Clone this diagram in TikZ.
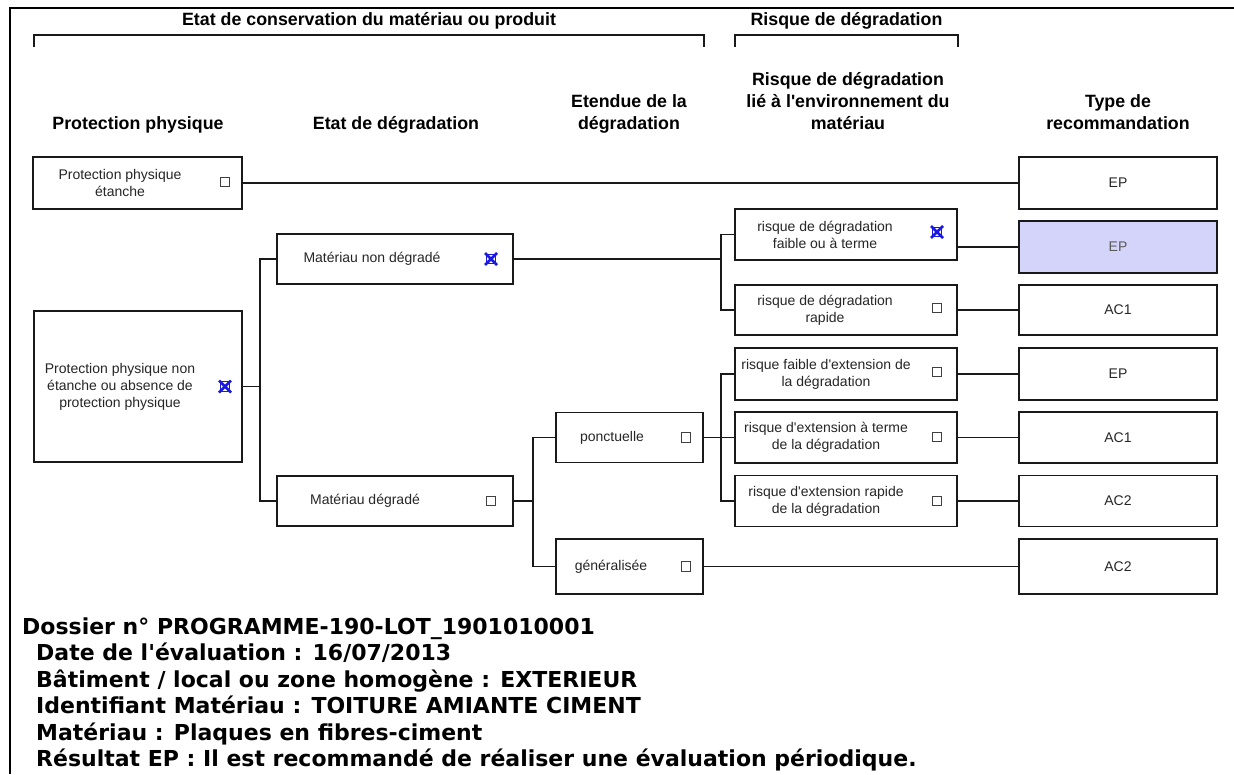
\documentclass[tikz,border=0pt]{standalone}
\usepackage{fontspec}
\setmainfont{Liberation Sans}[Ligatures=TeXOff]
\newfontfamily\verd{DejaVu Sans}
\definecolor{xblue}{RGB}{25,25,225}
\definecolor{lav}{RGB}{212,212,250}
\begin{document}
\begin{tikzpicture}[x=1pt,y=-1pt,
  box/.style={draw=black!90, line width=1.9pt, inner sep=0pt},
  btxt/.style={inner sep=0pt, align=center, font=\fontsize{14}{17}\selectfont, text=black!85},
  htxt/.style={inner sep=0pt, align=center, font=\fontsize{17.8}{22}\selectfont\bfseries},
  ftxt/.style={inner sep=0pt, anchor=base west, font=\fontsize{22}{26}\selectfont\verd\bfseries},
  cb/.style={draw=black!75, line width=0.9pt, minimum size=9.5pt, inner sep=0pt},
  cbx/.style={draw=xblue, line width=0.9pt, minimum size=9.5pt, inner sep=0pt},
  xm/.style={draw=xblue, line width=2.6pt},
  conn/.style={draw=black!90, line width=1.9pt},
  brk/.style={draw=black!90, line width=1.9pt}]
\useasboundingbox (0,0) rectangle (1234,774);
\fill[white] (0,0) rectangle (1234,774);
% frame
\draw[line width=2.6pt] (10,774) -- (10,8) -- (1234,8);
% top headers and brackets
\node[htxt] (h1) at (369,21) {Etat de conservation du matériau ou produit};
\node[htxt] (h2) at (846.5,21) {Risque de dégradation};
\draw[brk] (34,47) -- (34,35) -- (704,35) -- (704,47);
\draw[brk] (735,47) -- (735,35) -- (958,35) -- (958,47);
% column headers
\node[htxt, anchor=base] (c1) at (138,129) {Protection physique};
\node[htxt, anchor=base] (c2) at (396,129) {Etat de dégradation};
\node[htxt, anchor=base] (c3) at (629,129) {Etendue de la\\dégradation};
\node[htxt, anchor=base] (c4) at (848,129) {Risque de dégradation\\lié à l'environnement du\\matériau};
\node[htxt, anchor=base] (c5) at (1118,129) {Type de\\recommandation};
% protection physique
\node[box, minimum width=209pt, minimum height=52pt] (ppe) at (137.5,183) {};
\node[btxt] (tppe) at (120,183) {Protection physique\\étanche};
\node[cb] (kppe) at (225,182) {};
\node[box, minimum width=208pt, minimum height=151pt] (ppn) at (138,386.5) {};
\node[btxt] (tppn) at (120,386.5) {Protection physique non\\étanche ou absence de\\protection physique};
\node[cbx] (kppn) at (225,386.5) {};
\draw[xm] (kppn.center) +(-6,-6) -- +(6,6) +(6,-6) -- +(-6,6);
% etat de degradation
\node[box, minimum width=236pt, minimum height=50pt] (mnd) at (395,259) {};
\node[btxt] (tmnd) at (372,259) {Matériau non dégradé};
\node[cbx] (kmnd) at (491,259) {};
\draw[xm] (kmnd.center) +(-6,-6) -- +(6,6) +(6,-6) -- +(-6,6);
\node[box, minimum width=236pt, minimum height=50pt] (md) at (395,501) {};
\node[btxt] (tmd) at (365,501) {Matériau dégradé};
\node[cb] (kmd) at (491,501) {};
% etendue
\node[box, minimum width=147pt, minimum height=50pt] (pon) at (629.5,437.5) {};
\node[btxt] (tpon) at (612,437.5) {ponctuelle};
\node[cb] (kpon) at (686,437.5) {};
\node[box, minimum width=147pt, minimum height=55pt] (gen) at (629.5,566.5) {};
\node[btxt] (tgen) at (611,566.5) {généralisée};
\node[cb] (kgen) at (686,566.5) {};
% risque
\node[box, minimum width=222pt, minimum height=51pt] (rdf) at (846,234.5) {};
\node[btxt] (trdf) at (825,234.5) {risque de dégradation\\faible ou à terme};
\node[cbx] (krdf) at (937,232) {};
\draw[xm] (krdf.center) +(-6,-6) -- +(6,6) +(6,-6) -- +(-6,6);
\node[box, minimum width=222pt, minimum height=50pt] (rdr) at (846,310) {};
\node[btxt] (trdr) at (825,310) {risque de dégradation\\rapide};
\node[cb] (krdr) at (937,308) {};
\node[box, minimum width=222pt, minimum height=52pt] (ref1) at (846,374) {};
\node[btxt] (tref1) at (826,374) {risque faible d'extension de\\la dégradation};
\node[cb] (kref1) at (937,372) {};
\node[box, minimum width=222pt, minimum height=51pt] (ref2) at (846,437.5) {};
\node[btxt] (tref2) at (826,437.5) {risque d'extension à terme\\de la dégradation};
\node[cb] (kref2) at (937,437) {};
\node[box, minimum width=222pt, minimum height=51pt] (ref3) at (846,501) {};
\node[btxt] (tref3) at (826,501) {risque d'extension rapide\\de la dégradation};
\node[cb] (kref3) at (937,501) {};
% recommandations
\node[box, minimum width=198pt, minimum height=52pt] (ep1) at (1118,183) {};
\node[btxt] (tep1) at (1118,183) {EP};
\node[box, fill=lav, minimum width=198pt, minimum height=52pt] (ep2) at (1118,247) {};
\node[btxt, text=black!65] (tep2) at (1118,247) {EP};
\node[box, minimum width=198pt, minimum height=50pt] (ac1a) at (1118,310) {};
\node[btxt] (tac1a) at (1118,310) {AC1};
\node[box, minimum width=198pt, minimum height=52pt] (ep3) at (1118,374) {};
\node[btxt] (tep3) at (1118,374) {EP};
\node[box, minimum width=198pt, minimum height=51pt] (ac1b) at (1118,437.5) {};
\node[btxt] (tac1b) at (1118,437.5) {AC1};
\node[box, minimum width=198pt, minimum height=51pt] (ac2a) at (1118,501) {};
\node[btxt] (tac2a) at (1118,501) {AC2};
\node[box, minimum width=198pt, minimum height=55pt] (ac2b) at (1118,566.5) {};
\node[btxt] (tac2b) at (1118,566.5) {AC2};
% junctions
\coordinate (j1) at (260,386.5);
\coordinate (j2) at (721,259);
\coordinate (j3) at (721,437.5);
\coordinate (j4) at (533,501);
% connectors
\draw[conn] (ppe.east) -- (ep1.west);
\draw[conn] (ppn.east) -- (j1);
\draw[conn] (mnd.west) -| (j1) |- (md.west);
\draw[conn] (mnd.east) -- (j2);
\draw[conn] (rdf.west) -| (j2) |- (rdr.west);
\draw[conn] (md.east) -- (j4);
\draw[conn] (pon.west) -| (j4) |- (gen.west);
\draw[conn] (pon.east) -- (ref2.west);
\draw[conn] (ref1.west) -| (j3) |- (ref3.west);
\draw[conn] (rdf.east |- ep2.west) -- (ep2.west);
\draw[conn] (rdr.east) -- (ac1a.west);
\draw[conn] (ref1.east) -- (ep3.west);
\draw[conn] (ref2.east) -- (ac1b.west);
\draw[conn] (ref3.east) -- (ac2a.west);
\draw[conn] (gen.east) -- (ac2b.west);
% footer text
\node[ftxt] (f1) at (22,634) {Dossier n° PROGRAMME-190-LOT\_1901010001};
\node[ftxt] (f2) at (36,660.5) {Date de l'évaluation : 16/07/2013};
\node[ftxt] (f3) at (36,687) {Bâtiment / local ou zone homogène : EXTERIEUR};
\node[ftxt] (f4) at (36,713.5) {Identifiant Matériau : TOITURE AMIANTE CIMENT};
\node[ftxt] (f5) at (36,740) {Matériau : Plaques en fibres-ciment};
\node[ftxt] (f6) at (36,766.5) {Résultat EP : Il est recommandé de réaliser une évaluation périodique.};
\end{tikzpicture}
\end{document}
